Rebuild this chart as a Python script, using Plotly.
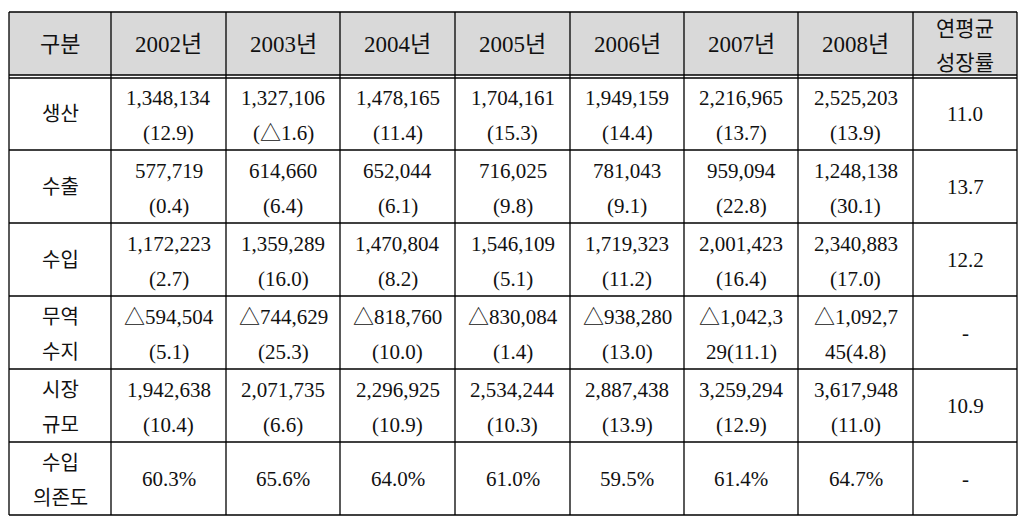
import plotly.graph_objects as go

# ---------------- data ----------------
header_first = "구분"
years = ["2002년", "2003년", "2004년", "2005년", "2006년", "2007년", "2008년"]
header_last = ["연평균", "성장률"]

row_labels = [["생산"], ["수출"], ["수입"], ["무역", "수지"], ["시장", "규모"], ["수입", "의존도"]]

production = [1348134, 1327106, 1478165, 1704161, 1949159, 2216965, 2525203]
production_growth = [12.9, -1.6, 11.4, 15.3, 14.4, 13.7, 13.9]
exports = [577719, 614660, 652044, 716025, 781043, 959094, 1248138]
exports_growth = [0.4, 6.4, 6.1, 9.8, 9.1, 22.8, 30.1]
imports = [1172223, 1359289, 1470804, 1546109, 1719323, 2001423, 2340883]
imports_growth = [2.7, 16.0, 8.2, 5.1, 11.2, 16.4, 17.0]
trade_balance = [-594504, -744629, -818760, -830084, -938280, -1042329, -1092745]
trade_balance_growth = [5.1, 25.3, 10.0, 1.4, 13.0, 11.1, 4.8]
market_size = [1942638, 2071735, 2296925, 2534244, 2887438, 3259294, 3617948]
market_size_growth = [10.4, 6.6, 10.9, 10.3, 13.9, 12.9, 11.0]
import_dependency = [60.3, 65.6, 64.0, 61.0, 59.5, 61.4, 64.7]
avg_growth = ["11.0", "13.7", "12.2", "-", "10.9", "-"]

# ---------------- layout geometry ----------------
W, H = 1034, 526
PAGE_MARGIN = 8  # default body margin of the html page
col_edges = [9, 111, 226, 340, 455, 570, 684, 798, 913, 1017]
header_top, header_bot, body_top = 12, 75, 78
row_edges = [body_top, 150, 223, 296, 369, 442, 515]
FONT = "Liberation Serif, Noto Sans CJK KR, serif"
LINE1, LINE2 = -16, 19


def fmt_num(v):
    s = f"{abs(v):,}"
    return ("△" + s) if v < 0 else s


def fmt_growth(g):
    return "(" + ("△" if g < 0 else "") + f"{abs(g):.1f}" + ")"


def cell_lines(value, growth, maxlen=9, cut=8):
    a, b = fmt_num(value), fmt_growth(growth)
    if len(a) > maxlen:  # original wraps long numbers inside the cell
        return [a[:cut], a[cut:] + b]
    return [a, b]


rows = []
for vals, grs in [(production, production_growth), (exports, exports_growth),
                  (imports, imports_growth), (trade_balance, trade_balance_growth),
                  (market_size, market_size_growth)]:
    rows.append([cell_lines(v, g) for v, g in zip(vals, grs)])
rows.append([[f"{d:.1f}%"] for d in import_dependency])

fig = go.Figure()
fig.add_trace(go.Scatter(x=[], y=[], hoverinfo="skip", showlegend=False))

shapes = []
shapes.append(dict(type="rect", xref="x", yref="y", x0=col_edges[0], x1=col_edges[-1],
                   y0=header_top, y1=header_bot, fillcolor="#d9d9d9", line=dict(width=0), layer="below"))
lw = 1.3
for y in [header_top, header_bot] + row_edges:
    shapes.append(dict(type="line", xref="x", yref="y", x0=col_edges[0], x1=col_edges[-1],
                       y0=y, y1=y, line=dict(color="black", width=lw)))
for x in col_edges:
    shapes.append(dict(type="line", xref="x", yref="y", x0=x, x1=x,
                       y0=header_top, y1=row_edges[-1], line=dict(color="black", width=lw)))

annotations = []


def add_lines(lines, cx, cy, size, offs=(LINE1, LINE2)):
    ys = [cy] if len(lines) == 1 else [cy + offs[0], cy + offs[1]]
    for t, y in zip(lines, ys):
        annotations.append(dict(x=cx, y=y, xref="x", yref="y", text=t, showarrow=False,
                                xanchor="center", yanchor="middle",
                                font=dict(family=FONT, size=size, color="#111111")))


centers_x = [(col_edges[i] + col_edges[i + 1]) / 2 for i in range(len(col_edges) - 1)]
hc = (header_top + header_bot) / 2 + 1
add_lines([header_first], centers_x[0], hc, 22)
for i, y in enumerate(years):
    add_lines([y], centers_x[i + 1], hc, 23)
add_lines(header_last, centers_x[-1], hc, 21, offs=(-16, 18))

for r in range(len(rows)):
    cy = (row_edges[r] + row_edges[r + 1]) / 2
    add_lines(row_labels[r], centers_x[0], cy, 20)
    for c, lines in enumerate(rows[r]):
        add_lines(lines, centers_x[c + 1], cy, 21)
    add_lines([avg_growth[r]], centers_x[-1], cy, 21)

fig.update_layout(
    width=W - PAGE_MARGIN, height=H - PAGE_MARGIN, margin=dict(l=0, r=0, t=0, b=0),
    paper_bgcolor="white", plot_bgcolor="white",
    xaxis=dict(range=[PAGE_MARGIN, W], visible=False, fixedrange=True),
    yaxis=dict(range=[H, PAGE_MARGIN], visible=False, fixedrange=True),
    shapes=shapes, annotations=annotations, showlegend=False,
)
fig.write_html("out.html")
